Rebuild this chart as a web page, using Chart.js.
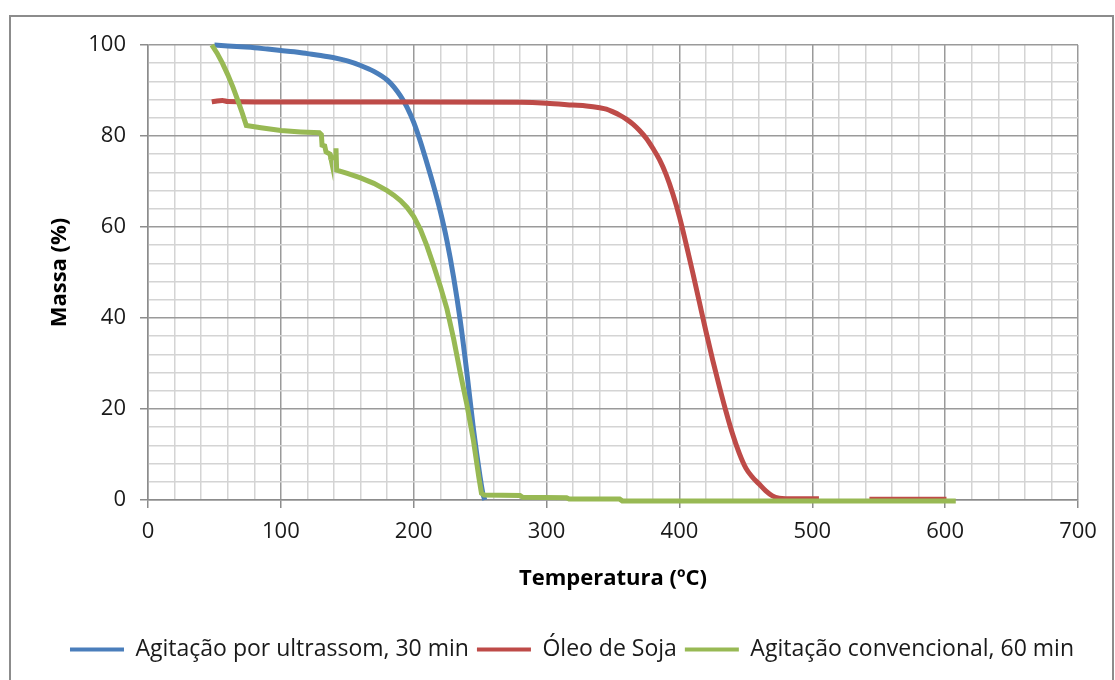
<!DOCTYPE html>
<html>
<head>
<meta charset="utf-8">
<script src="https://cdn.jsdelivr.net/npm/chart.js@4"></script>
<style>
  body { margin: 0; background: #fff; }
  #wrap { position: relative; width: 1115px; height: 680px; overflow: hidden; }
  #frame { position: absolute; left: 9px; top: 15px; width: 1105px; height: 700px; border: 2px solid #8c8c8c; box-sizing: border-box; }
  canvas { position: absolute; left: 0; top: 0; }
</style>
</head>
<body>
<div id="wrap">
  <div id="frame"></div>
  <canvas id="chart" width="1115" height="680"></canvas>
</div>
<script>
// series (temperature in ºC, mass in %)
var blueX = [50, 60, 70, 80, 90, 100, 110, 120, 130, 140, 150, 160, 170, 180, 185, 190, 195, 200, 205, 210, 215, 220, 225, 230, 235, 240, 245, 250, 252, 253.5];
var blueY = [100, 99.8, 99.6, 99.4, 99.1, 98.8, 98.5, 98.1, 97.7, 97.2, 96.5, 95.5, 94.2, 92.3, 90.8, 88.8, 86.3, 83, 78.8, 74, 69, 63.5, 57, 49, 39.5, 28, 15.5, 5, 1.5, 0];

var redX = [48, 52, 56, 60, 100, 200, 280, 300, 320, 330, 340, 345, 350, 355, 360, 365, 370, 375, 380, 385, 390, 395, 400, 405, 410, 415, 420, 425, 430, 435, 440, 445, 450, 455, 460, 465, 470, 475, 480, 505, 520, 543, 601];
var redY = [87.5, 87.7, 87.8, 87.6, 87.5, 87.5, 87.4, 87.2, 86.8, 86.6, 86.2, 85.9, 85.3, 84.6, 83.7, 82.6, 81.2, 79.5, 77.3, 74.8, 71.5, 67.3, 62.3, 56.3, 50, 43.5, 37, 30.8, 25, 19.5, 14.5, 10.3, 7, 5, 3.5, 2, 0.9, 0.4, 0.3, 0.3, null, 0.15, 0.15];

var greenX = [48, 52, 56, 60, 64, 68, 71, 74, 85, 100, 115, 129, 130.5, 131, 133, 134, 137, 137.5, 141, 141.5, 142, 150, 160, 170, 180, 185, 190, 195, 200, 205, 210, 215, 220, 225, 230, 235, 240, 245, 249, 251, 253, 280, 282, 315, 317, 355, 357, 608];
var greenY = [100, 98.2, 96, 93.5, 90.7, 87.5, 85, 82.3, 81.8, 81.2, 80.9, 80.7, 80.3, 78, 77.8, 76.5, 76, 75.3, 75.2, 77.3, 72.5, 71.8, 70.8, 69.6, 68, 67, 65.8, 64.3, 62.3, 59.5, 55.8, 51.5, 47, 42, 35.5, 28, 21, 13, 5, 1.5, 1.1, 1.0, 0.6, 0.5, 0.2, 0.2, -0.2, -0.2];

var labels = ["Agitação por ultrassom, 30 min", "Óleo de Soja", "Agitação convencional, 60 min"];
var colors = ["#4a7ebb", "#be4b48", "#98b954"];

function pts(xs, ys) {
  return xs.map(function(x, i) { return { x: x, y: ys[i] }; });
}

var fontFam = "'Open Sans', 'Noto Sans', sans-serif";

var ds = [
  { label: labels[0], data: pts(blueX, blueY), borderColor: colors[0], backgroundColor: colors[0], order: 3, cubicInterpolationMode: "monotone" },
  { label: labels[1], data: pts(redX, redY), borderColor: colors[1], backgroundColor: colors[1], order: 2, cubicInterpolationMode: "monotone" },
  { label: labels[2], data: pts(greenX, greenY), borderColor: colors[2], backgroundColor: colors[2], order: 1, tension: 0 }
];
ds.forEach(function(d) {
  d.borderWidth = 5;
  d.pointRadius = 0;
  d.fill = false;
  d.clip = false;
  d.spanGaps = false;
});

// the legend in the picture sits a bit right of centre
var shiftLegend = {
  id: "shiftLegend",
  afterLayout: function(chart) {
    chart.legend.left += 18;
    chart.legend.right += 18;
  }
};

new Chart(document.getElementById("chart"), {
  type: "line",
  data: { datasets: ds },
  plugins: [shiftLegend],
  options: {
    responsive: false,
    animation: false,
    layout: { padding: { left: 30, top: 45, right: 37, bottom: 9 } },
    plugins: {
      tooltip: { enabled: false },
      legend: {
        position: "bottom",
        labels: {
          font: { family: fontFam, size: 23 },
          color: "#1a1a1a",
          boxWidth: 54,
          boxHeight: 4,
          padding: 8,
          sort: function(a, b) { return a.datasetIndex - b.datasetIndex; },
          generateLabels: function(chart) {
            var items = Chart.defaults.plugins.legend.labels.generateLabels(chart);
            items.forEach(function(it) { it.lineWidth = 0; });
            return items;
          }
        }
      }
    },
    scales: {
      x: {
        type: "linear",
        min: 0, max: 700,
        afterFit: function(s) { s.height = 130; },
        ticks: {
          stepSize: 20,
          autoSkip: false,
          maxRotation: 0,
          padding: 11,
          color: "#1a1a1a",
          font: { family: fontFam, size: 22 },
          callback: function(v) { return v % 100 === 0 ? v : ""; }
        },
        grid: {
          color: function(c) { return c.tick && c.tick.value % 100 === 0 ? "#9a9a9a" : "#d4d4d4"; },
          tickColor: function(c) { return c.tick && c.tick.value % 100 === 0 ? "#8c8c8c" : "rgba(0,0,0,0)"; },
          tickLength: 8,
          lineWidth: 1.5
        },
        border: { color: "#8c8c8c", width: 1.5 },
        title: {
          display: true,
          text: "Temperatura (ºC)",
          color: "#000",
          font: { family: fontFam, size: 22, weight: "bold" },
          padding: { top: 0, bottom: 38 }
        }
      },
      y: {
        min: 0, max: 100,
        afterFit: function(s) { s.width = 118; },
        ticks: {
          stepSize: 4,
          autoSkip: false,
          padding: 14,
          color: "#1a1a1a",
          font: { family: fontFam, size: 22 },
          callback: function(v) { return v % 20 === 0 ? v : ""; }
        },
        grid: {
          color: function(c) { return c.tick && c.tick.value % 20 === 0 ? "#9a9a9a" : "#d4d4d4"; },
          tickColor: function(c) { return c.tick && c.tick.value % 20 === 0 ? "#8c8c8c" : "rgba(0,0,0,0)"; },
          tickLength: 8,
          lineWidth: 1.5
        },
        border: { color: "#8c8c8c", width: 1.5 },
        title: {
          display: true,
          text: "Massa (%)",
          color: "#000",
          font: { family: fontFam, size: 22, weight: "bold" },
          padding: { top: 17, bottom: 0 }
        }
      }
    }
  }
});
</script>
</body>
</html>
